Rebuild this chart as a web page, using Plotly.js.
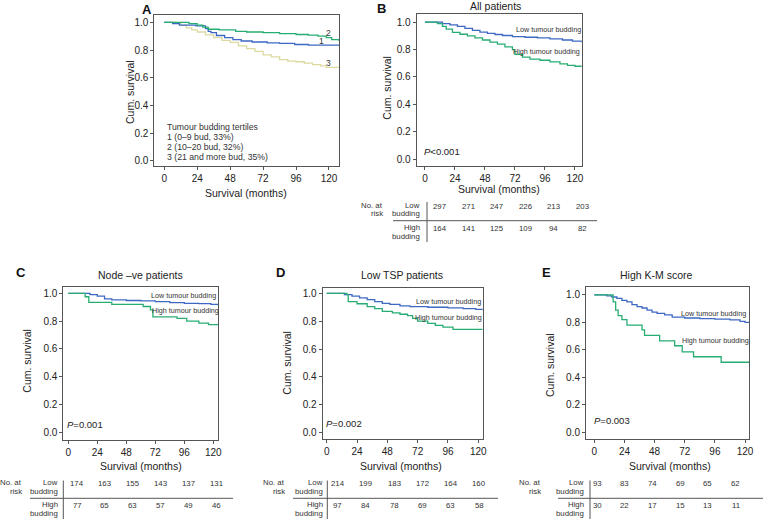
<!DOCTYPE html>
<html><head><meta charset="utf-8">
<script src="https://cdn.plot.ly/plotly-3.0.1.min.js"></script>
<style>html,body{margin:0;padding:0;background:#fff}#chart{width:763px;height:519px}</style>
</head><body><div id="chart"></div>
<script>
// ---------- DATA ----------
const xTicks = [0, 24, 48, 72, 96, 120];
const yTicks = [0, 0.2, 0.4, 0.6, 0.8, 1.0];

// Panel A: tumour budding tertiles
const tA1 = [0, 6, 11, 23, 30, 32, 34, 38, 44, 50, 56, 64, 75, 84, 95, 105, 127.3];
const sA1 = [1, 0.99, 0.98, 0.975, 0.955, 0.935, 0.925, 0.905, 0.89, 0.875, 0.865, 0.858, 0.852, 0.848, 0.84, 0.836, 0.836];
const tA2 = [0, 18, 24, 28, 32, 40, 52, 60, 72, 84, 96, 105, 112, 118, 122, 127.3];
const sA2 = [1, 0.99, 0.98, 0.965, 0.95, 0.945, 0.935, 0.93, 0.925, 0.918, 0.912, 0.908, 0.9, 0.89, 0.875, 0.865];
const tA3 = [0, 8, 12, 16, 20, 24, 30, 36, 42, 48, 54, 60, 66, 72, 78, 84, 90, 96, 102, 108, 114, 118, 127.3];
const sA3 = [1, 0.99, 0.98, 0.96, 0.945, 0.93, 0.91, 0.89, 0.87, 0.855, 0.83, 0.81, 0.79, 0.765, 0.75, 0.73, 0.72, 0.715, 0.705, 0.695, 0.685, 0.675, 0.675];
const labelsA = ['1', '2', '3'];
const legendA = ['Tumour budding tertiles', '1 (0\u20139 bud, 33%)', '2 (10\u201320 bud, 32%)', '3 (21 and more bud, 35%)'];

// Panel B: all patients
const tB1 = [0, 14, 20, 26, 32, 38, 44, 50, 56, 62, 70, 80, 90, 100, 110, 118, 125.4];
const sB1 = [1, 0.99, 0.98, 0.97, 0.955, 0.94, 0.928, 0.918, 0.91, 0.903, 0.895, 0.89, 0.885, 0.878, 0.87, 0.862, 0.852];
const tB2 = [0, 10, 14, 17, 22, 28, 34, 40, 46, 52, 58, 64, 70, 72, 78, 84, 92, 100, 108, 114, 120, 125.4];
const sB2 = [1, 0.99, 0.97, 0.95, 0.925, 0.912, 0.9, 0.885, 0.87, 0.855, 0.84, 0.82, 0.8, 0.765, 0.745, 0.73, 0.722, 0.71, 0.695, 0.685, 0.678, 0.675];
const riskB_low  = [297, 271, 247, 226, 213, 203];
const riskB_high = [164, 141, 125, 109, 94, 82];

// Panel C: node -ve patients
const tC1 = [0, 18, 24, 30, 36, 48, 60, 72, 84, 96, 108, 118, 124.1];
const sC1 = [1, 0.99, 0.98, 0.96, 0.952, 0.948, 0.945, 0.94, 0.933, 0.928, 0.925, 0.92, 0.91];
const tC2 = [0, 14, 17, 36, 62, 68, 70, 90, 98, 108, 116, 124.1];
const sC2 = [1, 0.975, 0.935, 0.92, 0.905, 0.88, 0.83, 0.82, 0.8, 0.785, 0.775, 0.775];
const riskC_low  = [174, 163, 155, 143, 137, 131];
const riskC_high = [77, 65, 63, 57, 49, 46];

// Panel D: low TSP patients
const tD1 = [0, 14, 20, 26, 32, 38, 44, 50, 58, 66, 80, 96, 108, 118, 123.5];
const sD1 = [1, 0.99, 0.98, 0.968, 0.955, 0.94, 0.928, 0.92, 0.91, 0.905, 0.9, 0.895, 0.89, 0.885, 0.878];
const tD2 = [0, 16, 17, 24, 32, 38, 44, 52, 58, 64, 68, 72, 80, 86, 92, 100, 123.5];
const sD2 = [1, 0.99, 0.94, 0.925, 0.905, 0.89, 0.87, 0.86, 0.85, 0.84, 0.82, 0.8, 0.785, 0.77, 0.758, 0.742, 0.742];
const riskD_low  = [214, 199, 183, 172, 164, 160];
const riskD_high = [97, 84, 78, 69, 63, 58];

// Panel E: high K-M score
const tE1 = [0, 10, 14, 18, 22, 26, 30, 34, 38, 42, 46, 50, 56, 62, 72, 84, 96, 108, 116, 120, 123.4];
const sE1 = [1, 0.993, 0.985, 0.975, 0.96, 0.95, 0.93, 0.915, 0.905, 0.89, 0.875, 0.866, 0.855, 0.838, 0.832, 0.828, 0.824, 0.818, 0.808, 0.8, 0.795];
const tE2 = [0, 15, 17, 19, 22, 26, 38, 40, 52, 64, 70, 79, 101, 123.4];
const sE2 = [1, 0.95, 0.89, 0.85, 0.82, 0.78, 0.745, 0.705, 0.665, 0.63, 0.585, 0.55, 0.51, 0.51];
const riskE_low  = [93, 83, 74, 69, 65, 62];
const riskE_high = [30, 22, 17, 15, 13, 11];

const groupLabels = ['Low tumour budding', 'High tumour budding'];
const panelTitles = ['', 'All patients', 'Node \u2013ve patients', 'Low TSP patients', 'High K-M score'];
const panelLetters = ['A', 'B', 'C', 'D', 'E'];
const pValues = ['', '<0.001', '=0.001', '=0.002', '=0.003'];

// ---------- STYLE / LAYOUT ----------
const W = 763, H = 519;
const px = x => x / W, py = y => 1 - y / H;
const FONT = 'Liberation Sans, Arial, sans-serif';
const BLUE = '#3d68c4', GREEN = '#27ad72', KHAKI = '#ddd9a0';
const TXT = '#222';

// box: [left, top, right, bottom] in pixels
const panels = [
  {box: [154.3, 15, 339, 165.7], xr: [-7.3, 127.3], yr: [-0.036, 1.053]},
  {box: [416.7, 14, 581.7, 165.7], xr: [-6.6, 125.4], yr: [-0.049, 1.06]},
  {box: [63.3, 287.3, 218.3, 440], xr: [-4.1, 124.1], yr: [-0.055, 1.043]},
  {box: [322.7, 288.3, 482.7, 439], xr: [-3.2, 123.5], yr: [-0.045, 1.036]},
  {box: [586, 286.7, 749.3, 439], xr: [-6.6, 123.4], yr: [-0.049, 1.06]}
];

const layout = {
  width: W, height: H, margin: {l: 0, r: 0, t: 0, b: 0},
  paper_bgcolor: '#fff', plot_bgcolor: '#fff', showlegend: false,
  font: {family: FONT, color: TXT},
  annotations: [], shapes: []
};

panels.forEach((p, i) => {
  const n = i === 0 ? '' : String(i + 1);
  const [l, t, r, b] = p.box;
  layout['xaxis' + n] = {
    domain: [px(l), px(r)], range: p.xr, anchor: 'y' + n,
    tickvals: xTicks, ticks: 'outside', ticklen: 3, tickcolor: '#555',
    showline: true, mirror: true, linecolor: '#555', linewidth: 1,
    showgrid: false, zeroline: false, fixedrange: true,
    tickfont: {family: FONT, size: 10, color: TXT}
  };
  layout['yaxis' + n] = {
    domain: [py(b), py(t)], range: p.yr, anchor: 'x' + n,
    tickvals: yTicks, tickformat: '.1f', ticks: 'outside', ticklen: 3, tickcolor: '#555',
    showline: true, mirror: true, linecolor: '#555', linewidth: 1,
    showgrid: false, zeroline: false, fixedrange: true,
    tickfont: {family: FONT, size: 10, color: TXT}
  };
});

function ann(x, y, text, opts) {
  layout.annotations.push(Object.assign({
    xref: 'paper', yref: 'paper', x: px(x), y: py(y), text: text, showarrow: false,
    xanchor: 'center', yanchor: 'middle', font: {family: FONT, size: 10.5, color: TXT}
  }, opts || {}));
}
function line(x0, y0, x1, y1) {
  layout.shapes.push({type: 'line', xref: 'paper', yref: 'paper',
    x0: px(x0), y0: py(y0), x1: px(x1), y1: py(y1), line: {color: '#555', width: 1}});
}

// Panel letters & titles
const letterPos = [[147, 9], [381.7, 8], [20.7, 272], [280, 272], [546.7, 272]];
const titlePos = [[0, 0], [495, 6], [140, 275], [401.7, 275], [656.7, 275]];
panelLetters.forEach((L, i) => {
  ann(letterPos[i][0], letterPos[i][1], '<b>' + L + '</b>', {font: {family: FONT, size: 13, color: '#111'}});
  if (panelTitles[i]) ann(titlePos[i][0], titlePos[i][1], panelTitles[i], {font: {family: FONT, size: 10.5, color: TXT}});
});

// Axis titles
const yTitlePos = [[130, 92], [386.7, 88], [26.7, 361], [286.7, 363], [550, 365]];
const xTitlePos = [[246, 193], [499, 189], [140.7, 465.5], [401, 465.5], [670, 465.5]];
for (let i = 0; i < 5; i++) {
  ann(yTitlePos[i][0], yTitlePos[i][1], 'Cum. survival', {textangle: -90, font: {family: FONT, size: 10.5, color: TXT}});
  ann(xTitlePos[i][0], xTitlePos[i][1], 'Survival (months)', {font: {family: FONT, size: 10.5, color: TXT}});
}

// P-values
const pPos = [null, [421.7, 151.7], [65, 424], [324, 423], [591.7, 420]];
for (let i = 1; i < 5; i++) {
  ann(pPos[i][0], pPos[i][1], '<i>P</i>' + pValues[i].replace('<', '&lt;'),
    {xanchor: 'left', font: {family: FONT, size: 9.5, color: TXT}});
}

// Group labels on curves
const grpPos = [null, [[548, 29.3], [546.7, 51.7]], [[183, 295], [185, 310.7]],
  [[448, 301.7], [449, 317.3]], [[713, 313], [715, 340]]];
for (let i = 1; i < 5; i++) {
  groupLabels.forEach((g, k) => ann(grpPos[i][k][0], grpPos[i][k][1], g,
    {font: {family: FONT, size: 7.2, color: '#333'}}));
}

// Panel A curve labels & legend text
const aLab = [[321.7, 40.7], [328, 33], [328, 63]];
labelsA.forEach((t, k) => ann(aLab[k][0], aLab[k][1], t, {font: {family: FONT, size: 8.5, color: '#333'}}));
legendA.forEach((t, k) => ann(165, 126.7 + 10 * k, t, {xanchor: 'left', font: {family: FONT, size: 8.7, color: '#333'}}));

// Risk tables
const risk = [null,
  {low: riskB_low, high: riskB_high, x0: 439.5, dx: 28.6, yl: 206, yh: 228.5, vx: 427, vy0: 202, vy1: 242, hx0: 393, hx1: 597, hy: 220.7, labR: 422, naR: 385},
  {low: riskC_low, high: riskC_high, x0: 77, dx: 27.9, yl: 483.5, yh: 505, vx: 63.3, vy0: 480.5, vy1: 519, hx0: 30, hx1: 233, hy: 498.3, labR: 60, naR: 23.5},
  {low: riskD_low, high: riskD_high, x0: 337.5, dx: 28.3, yl: 483.5, yh: 505, vx: 327.3, vy0: 480.5, vy1: 519, hx0: 293, hx1: 498, hy: 498.3, labR: 324.5, naR: 287},
  {low: riskE_low, high: riskE_high, x0: 597, dx: 27.7, yl: 483.5, yh: 505, vx: 590, vy0: 480.5, vy1: 519, hx0: 558, hx1: 763, hy: 498.3, labR: 586, naR: 543}
];
const small = {family: FONT, size: 7.8, color: '#333'};
for (let i = 1; i < 5; i++) {
  const R = risk[i];
  R.low.forEach((v, k) => ann(R.x0 + k * R.dx, R.yl, String(v), {font: small}));
  R.high.forEach((v, k) => ann(R.x0 + k * R.dx, R.yh, String(v), {font: small}));
  ann(R.naR, R.yl - 1, 'No. at', {xanchor: 'right', font: small});
  ann(R.naR, R.yl + 7.5, 'risk', {xanchor: 'right', font: small});
  ann(R.labR, R.yl - 1, 'Low', {xanchor: 'right', font: small});
  ann(R.labR, R.yl + 7.5, 'budding', {xanchor: 'right', font: small});
  ann(R.labR, R.yh - 1, 'High', {xanchor: 'right', font: small});
  ann(R.labR, R.yh + 8.5, 'budding', {xanchor: 'right', font: small});
  line(R.vx, R.vy0, R.vx, R.vy1);
  line(R.hx0, R.hy, R.hx1, R.hy);
}

// ---------- TRACES ----------
function km(t, s, color, n) {
  return {type: 'scatter', mode: 'lines', x: t, y: s, xaxis: 'x' + n, yaxis: 'y' + n,
    line: {shape: 'hv', color: color, width: 1.3}, hoverinfo: 'skip'};
}
const traces = [
  km(tA3, sA3, KHAKI, ''), km(tA1, sA1, BLUE, ''), km(tA2, sA2, GREEN, ''),
  km(tB1, sB1, BLUE, '2'), km(tB2, sB2, GREEN, '2'),
  km(tC1, sC1, BLUE, '3'), km(tC2, sC2, GREEN, '3'),
  km(tD1, sD1, BLUE, '4'), km(tD2, sD2, GREEN, '4'),
  km(tE1, sE1, BLUE, '5'), km(tE2, sE2, GREEN, '5')
];

Plotly.newPlot('chart', traces, layout, {displayModeBar: false, staticPlot: true});
</script></body></html>
